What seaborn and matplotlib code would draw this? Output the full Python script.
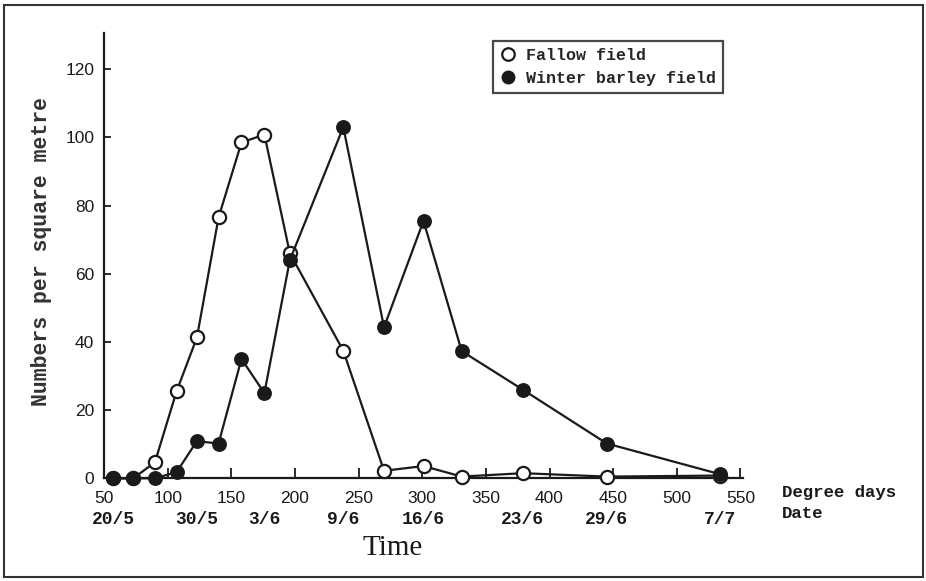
import matplotlib
matplotlib.use("Agg")
import matplotlib.pyplot as plt
import matplotlib.transforms as mtransforms
from matplotlib.lines import Line2D
from matplotlib.patches import Rectangle
import seaborn as sns
import pandas as pd

# Data (degree days on x, numbers per square metre on y)
degree_days = [57, 73, 90, 107, 123, 140, 158, 176, 196, 238, 270, 301, 331, 379, 445, 534]
fallow = [0, 0, 4.7, 25.5, 41.3, 76.5, 98.5, 100.8, 66, 37.4, 2.2, 3.6, 0.5, 1.5, 0.5, 0.8]
barley = [0, 0, 0, 1.8, 10.9, 10.2, 35, 25, 64, 103, 44.3, 75.5, 37.3, 26, 10.2, 1.2]
x_ticks = [50, 100, 150, 200, 250, 300, 350, 400, 450, 500, 550]
y_ticks = [0, 20, 40, 60, 80, 100, 120]
date_pos = [57, 123, 176, 238, 301, 379, 445, 534]
date_labels = ["20/5", "30/5", "3/6", "9/6", "16/6", "23/6", "29/6", "7/7"]
series_names = ["Fallow field", "Winter barley field"]

df = pd.DataFrame({"deg": degree_days, "fallow": fallow, "barley": barley})

sns.set_theme(style="white")
plt.rcParams["font.family"] = ["Liberation Sans", "DejaVu Sans"]

W, H = 926, 581
fig = plt.figure(figsize=(W / 100, H / 100), dpi=100)
ax = fig.add_axes([104 / W, 1 - 478.3 / H, (743 - 104) / W, (478.3 - 33) / H])

mono = ["Liberation Mono", "DejaVu Sans Mono"]
ink = "#1a1a1a"

sns.lineplot(data=df, x="deg", y="fallow", ax=ax, color=ink, lw=1.6,
             marker="o", markersize=9.5, markerfacecolor="white",
             markeredgecolor=ink, markeredgewidth=1.6, clip_on=False, zorder=3)
sns.lineplot(data=df, x="deg", y="barley", ax=ax, color=ink, lw=1.6,
             marker="o", markersize=9.5, markerfacecolor=ink,
             markeredgecolor=ink, markeredgewidth=1.2, clip_on=False, zorder=4)

ax.set_xlim(50, 552)
ax.set_ylim(0, 130.6)
ax.set_xticks(x_ticks)
ax.set_xticklabels([str(v) for v in x_ticks])
ax.set_yticks(y_ticks)
ax.set_yticklabels([str(v) for v in y_ticks])
ax.set_xlabel("")
ax.set_ylabel("")
for s in ["top", "right"]:
    ax.spines[s].set_visible(False)
for s in ["left", "bottom"]:
    ax.spines[s].set_color(ink)
    ax.spines[s].set_linewidth(1.6)
ax.tick_params(axis="x", direction="in", length=7, width=1.3, colors=ink,
               labelsize=12.5, pad=9, bottom=True)
ax.tick_params(axis="y", direction="in", length=5, width=1.3, colors=ink,
               labelsize=12.5, pad=7, left=True)
ax.grid(False)

# Date labels under the degree-day labels
trans = mtransforms.blended_transform_factory(ax.transData, fig.transFigure)
for p, lab in zip(date_pos, date_labels):
    ax.text(p, 1 - 519 / H, lab, transform=trans, ha="center", va="center",
            family=mono, fontweight="bold", fontsize=13, color=ink)

fig.text(782 / W, 1 - 492 / H, "Degree days", ha="left", va="center",
         family=mono, fontweight="bold", fontsize=12.5, color=ink)
fig.text(782 / W, 1 - 514 / H, "Date", ha="left", va="center",
         family=mono, fontweight="bold", fontsize=12.5, color=ink)
fig.text(393 / W, 1 - 548 / H, "Time", ha="center", va="center",
         family=["Liberation Serif", "DejaVu Serif"], fontsize=21, color=ink)
fig.text(42 / W, 1 - 251 / H, "Numbers per square metre", rotation=90,
         ha="center", va="center", family=mono, fontweight="bold",
         fontsize=15.5, color="#333333")

handles = [
    Line2D([], [], ls="none", marker="o", markersize=9, markerfacecolor="white",
           markeredgecolor=ink, markeredgewidth=1.6),
    Line2D([], [], ls="none", marker="o", markersize=9, markerfacecolor=ink,
           markeredgecolor=ink),
]
leg = fig.legend(handles, series_names, loc="upper left",
                 bbox_to_anchor=(493 / W, 1 - 41 / H), borderaxespad=0,
                 frameon=True, fancybox=False,
                 handlelength=1.0, handletextpad=0.6, borderpad=0.4, labelspacing=0.5,
                 prop={"family": mono, "weight": "bold", "size": 12})
leg.get_frame().set_edgecolor(ink)
leg.get_frame().set_linewidth(1.6)
leg.get_frame().set_facecolor("white")

fig.patches.append(Rectangle((4 / W, 1 - 577 / H), (923 - 4) / W, (577 - 5) / H,
                             transform=fig.transFigure, fill=False,
                             edgecolor="#333333", lw=1.5))

fig.savefig("out.png", dpi=100, facecolor="white")
